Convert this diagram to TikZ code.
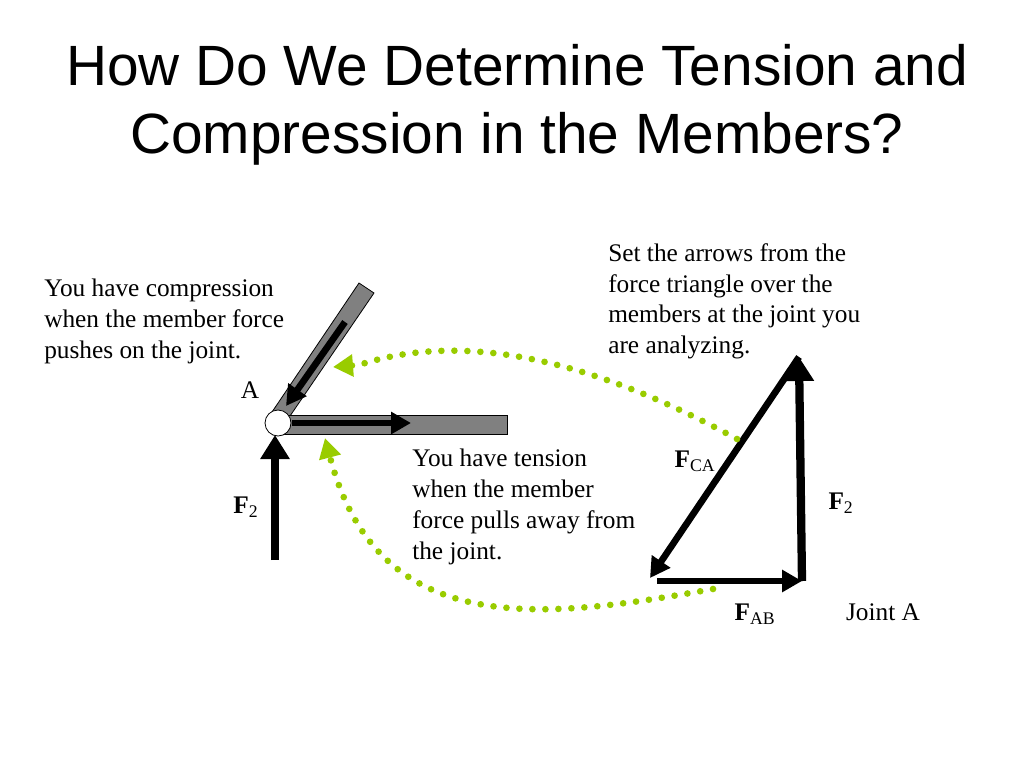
\documentclass[tikz,border=0pt]{standalone}
\usepackage{fontspec}
\setmainfont{Liberation Serif}
\newfontfamily\titlefont{Liberation Sans}
\usetikzlibrary{arrows.meta}
\definecolor{memgray}{rgb}{0.5,0.5,0.5}
\definecolor{dotgreen}{rgb}{0.6,0.8,0}
\tikzset{
  memberbar/.style={draw=black,fill=memgray,line width=0.6pt},
  thinforce/.style={line width=5pt,-{Triangle[length=15pt,width=16pt]}},
  fatforce/.style={line width=6.2pt,-{Triangle[length=18pt,width=21pt]}},
  dotpath/.style={dotgreen,line width=5pt,line cap=round,dash pattern=on 0pt off 9.75pt,-{Triangle[length=15pt,width=16pt]}},
  note/.style={align=left,anchor=north west,inner sep=0pt,font=\fontsize{19}{23.2}\selectfont},
  lab/.style={inner sep=0pt,font=\fontsize{19}{22}\selectfont}
}
\begin{document}
\begin{tikzpicture}[x=0.75pt,y=-0.75pt]
  \useasboundingbox (0,0) rectangle (1024,768);

  \node[align=center,inner sep=0pt,font=\titlefont\fontsize{42.6}{51}\selectfont] (title) at (517,105)
    {How Do We Determine Tension and\\Compression in the Members?};

  % members at the joint
  \draw[memberbar] (359,283) -- (374,293) -- (290,416) -- (272,412) -- cycle;
  \draw[memberbar] (277,415) rectangle (507,434);
  \node[circle,draw=black,fill=white,line width=0.6pt,minimum size=19.5pt,inner sep=0pt] (jointA) at (278,423) {};

  \coordinate (compS) at (345,322);
  \coordinate (compE) at (286,406);
  \coordinate (tensS) at (292,423);
  \coordinate (tensE) at (411,423);
  \coordinate (pushS) at (275,560);
  \coordinate (pushE) at (275,435);
  \draw[thinforce] (compS) -- (compE);
  \draw[thinforce] (tensS) -- (tensE);
  \draw[fatforce] (pushS) -- (pushE);

  % force triangle
  \coordinate (triTop) at (799,357);
  \coordinate (triLeft) at (650,578);
  \coordinate (triLow) at (657,581);
  \coordinate (triRight) at (802,581);
  \draw[fatforce] (triRight) -- (triTop);
  \draw[thinforce] (triTop) -- (triLeft);
  \draw[thinforce] (triLow) -- (triRight);

  % dotted green arrows
  \coordinate (upS) at (737,439);
  \coordinate (upK) at (359,365);
  \coordinate (upE) at (333,367);
  \coordinate (lowS) at (713,589);
  \coordinate (lowE) at (325,438);
  \draw[dotpath] (upS) .. controls (620,375) and (480,325) .. (upK) -- (upE);
  \draw[dotpath] (lowS) .. controls (540,620) and (378,640) .. (lowE);

  \node[note] (compnote) at (44,279) {You have compression\\when the member force\\pushes on the joint.};
  \node[note] (tensnote) at (412,449) {You have tension\\when the member\\force pulls away from\\the joint.};
  \node[note] (setnote) at (608,243) {Set the arrows from the\\force triangle over the\\members at the joint you\\are analyzing.};

  \node[lab] (labA) at (250,390) {A};
  \node[lab] (labF) at (246,507) {\textbf{F}\textsubscript{2}};
  \node[lab] (labCA) at (695,461) {\textbf{F}\textsubscript{CA}};
  \node[lab] (labFt) at (841,503) {\textbf{F}\textsubscript{2}};
  \node[lab] (labAB) at (755,614) {\textbf{F}\textsubscript{AB}};
  \node[lab] (labJ) at (883,612) {Joint A};
\end{tikzpicture}
\end{document}
